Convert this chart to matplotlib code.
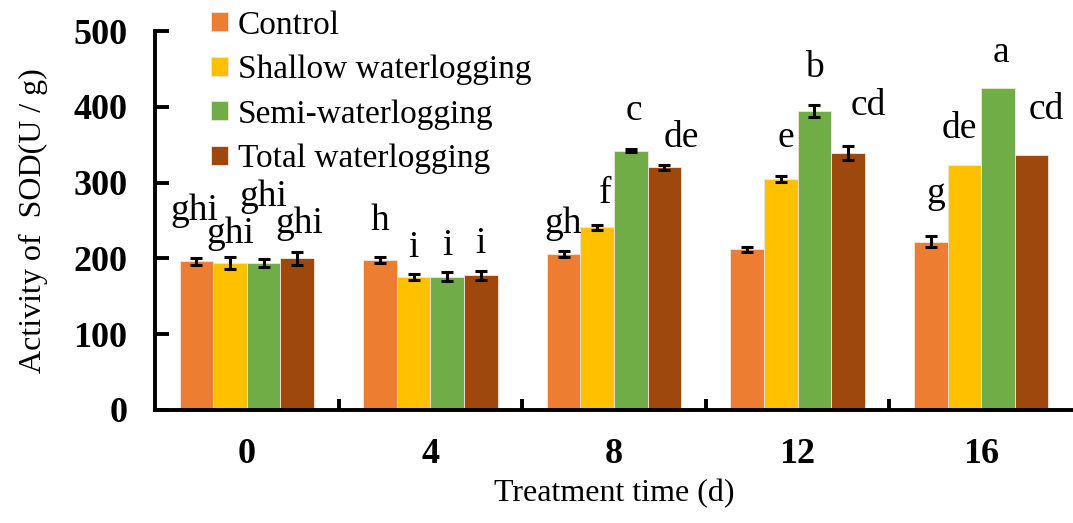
import numpy as np
import matplotlib
matplotlib.use('Agg')
import matplotlib.pyplot as plt

plt.rcParams['font.family'] = ['Liberation Serif', 'DejaVu Serif']

# dados (SOD, U/g)
days = ['0', '4', '8', '12', '16']
treatments = ['Control', 'Shallow waterlogging', 'Semi-waterlogging', 'Total waterlogging']
colors = ['#ED7D31', '#FFC000', '#70AD47', '#9E480E']

control = [196, 198, 206, 212, 222]
shallow = [194, 175, 241, 305, 323]
semi = [194, 176, 342, 395, 425]
total = [200, 178, 320, 339, 337]

control_err = [5, 4, 4, 3, 7]
shallow_err = [8, 4, 3, 4, 0]
semi_err = [5, 6, 2, 8, 0]
total_err = [9, 6, 3, 9, 0]

# letras de significancia
control_let = ['ghi', 'h', 'gh', '', 'g']
shallow_let = ['ghi', 'i', 'f', 'e', 'de']
semi_let = ['ghi', 'i', 'c', 'b', 'a']
total_let = ['ghi', 'i', 'de', 'cd', 'cd']

means = [control, shallow, semi, total]
errs = [control_err, shallow_err, semi_err, total_err]
letters = [control_let, shallow_let, semi_let, total_let]

# posicionamento das letras (distancia acima da barra, deslocamento em larguras de barra)
label_gap = [
    [50, 35, 24, 0, 44],
    [18, 23, 29, 38, 36],
    [70, 23, 39, 36, 34],
    [25, 23, 24, 41, 47],
]
label_nudge = [
    [-0.05, 0, 0, 0, 0.15],
    [0, 0, 0.25, 0.15, -0.15],
    [0, 0, 0.1, 0, 0.1],
    [0.05, 0, 0.5, 0.6, 0.45],
]

fig = plt.figure(figsize=(10.73, 5.23), dpi=100)
ax = fig.add_axes([155 / 1073, 1 - 410 / 523, 1 - 155 / 1073, (410 - 31) / 523])

x = np.arange(len(days))
w = 0.183
for i in range(4):
    pos = x + (i - 1.5) * w
    ax.bar(pos, means[i], w, color=colors[i], edgecolor='#f4e6dc', linewidth=0.6,
           label=treatments[i], zorder=2)
    e = np.array(errs[i])
    m = e > 0
    ax.errorbar(pos[m], np.array(means[i])[m], yerr=e[m], fmt='none', ecolor='black',
                elinewidth=2.2, capsize=4, capthick=2.2, zorder=3)
    for j in range(len(days)):
        if not letters[i][j]:
            continue
        ytxt = means[i][j] + errs[i][j] + label_gap[i][j]
        ax.text(pos[j] + label_nudge[i][j] * w, ytxt, letters[i][j], ha='center',
                va='baseline', fontsize=27)

ax.set_xlim(-0.5, 4.5)
ax.set_ylim(0, 500)
ax.set_yticks([0, 100, 200, 300, 400, 500])
ax.set_xticks(x)
ax.set_xticklabels(days)
ax.set_xticks(x[:-1] + 0.5, minor=True)

for s in ['top', 'right']:
    ax.spines[s].set_visible(False)
for s in ['left', 'bottom']:
    ax.spines[s].set_linewidth(2.8)

ax.tick_params(axis='y', direction='in', length=10, width=2.8, labelsize=26, pad=20)
ax.tick_params(axis='x', which='major', length=0, labelsize=26, pad=20)
ax.tick_params(axis='x', which='minor', direction='in', length=8, width=2.8)
for lab in ax.get_xticklabels() + ax.get_yticklabels():
    lab.set_fontweight('bold')

ax.set_ylabel('Activity of  SOD(U / g)', fontsize=23, labelpad=18)
ax.set_xlabel('Treatment time (d)', fontsize=23, labelpad=6)

fig.legend(loc='upper left', bbox_to_anchor=(211 / 1073, 1 - 10 / 523), frameon=False,
           fontsize=24, handlelength=0.5, handleheight=0.5, handletextpad=0.3,
           labelspacing=0.42, borderpad=0, borderaxespad=0)

fig.savefig('out.png', dpi=100)
